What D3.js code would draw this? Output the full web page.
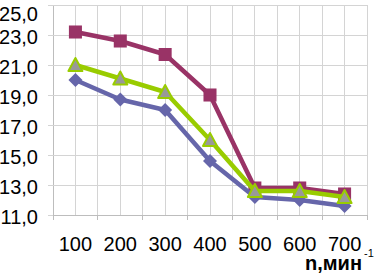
<!DOCTYPE html>
<html><head><meta charset="utf-8">
<script src="https://cdn.jsdelivr.net/npm/d3@7"></script>
<style>body{margin:0;background:#fff}svg{display:block}</style>
</head><body>
<svg id="c" width="376" height="273"></svg>
<script>
const categories = ["100","200","300","400","500","600","700"];
const seriesBlue = [20.0, 18.7, 18.0, 14.6, 12.2, 12.0, 11.6];
const seriesMagenta = [23.2, 22.6, 21.7, 19.0, 12.8, 12.8, 12.4];
const seriesGreen = [21.0, 20.1, 19.2, 16.0, 12.6, 12.6, 12.2];
const yTicks = [11, 13, 15, 17, 19, 21, 23, 25];
const xTitle = "n,мин";
const xTitleSup = "-1";

const svg = d3.select("#c");
const L = 53, R = 367, T = 5, B = 215;
const x = d3.scaleBand().domain(categories).range([L, R]);
const y = d3.scaleLinear().domain([11, 25]).range([B, T]);
const font = "'Liberation Sans', Arial, sans-serif";
const grid = "#d4d4d4";

// vertical gridlines at band boundaries and centers
const vx = [];
categories.forEach(c => { vx.push(x(c)); vx.push(x(c) + x.bandwidth() / 2); });
vx.push(R);
svg.append("g").selectAll("line").data(vx).join("line")
  .attr("x1", d => d).attr("x2", d => d).attr("y1", T).attr("y2", B)
  .attr("stroke", grid).attr("stroke-width", 1).attr("shape-rendering", "crispEdges");

// y axis with gridlines
const yAxis = d3.axisLeft(y).tickValues(yTicks).tickSize(-(R - L)).tickPadding(10)
  .tickFormat(d => d3.format(".1f")(d).replace(".", ","));
const gy = svg.append("g").attr("transform", `translate(${L},0)`).call(yAxis);
gy.select(".domain").attr("stroke", "#bdbdbd");
gy.selectAll(".tick line").attr("stroke", grid).attr("x1", -5).attr("shape-rendering", "crispEdges");
gy.selectAll(".tick text").attr("font-family", font).attr("font-size", 20).attr("fill", "#000")
  .attr("x", -15).attr("dy", d => d === 25 ? "0.75em" : "0.42em");

// x axis
const xAxis = d3.axisBottom(x).tickSize(0).tickPadding(22);
const gx = svg.append("g").attr("transform", `translate(0,${B})`).call(xAxis);
gx.select(".domain").attr("stroke", "#bdbdbd");
gx.selectAll(".tick text").attr("font-family", font).attr("font-size", 20).attr("fill", "#000");
// boundary tick marks
gx.append("g").selectAll("line").data(categories.map(c => x(c)).concat([R])).join("line")
  .attr("x1", d => d).attr("x2", d => d).attr("y1", 0).attr("y2", 5)
  .attr("stroke", "#bdbdbd").attr("shape-rendering", "crispEdges");

// axis title
svg.append("text").attr("x", 362).attr("y", 270).attr("text-anchor", "end")
  .attr("font-family", font).attr("font-weight", "bold").attr("font-size", 20).attr("fill", "#000").text(xTitle);
svg.append("text").attr("x", 364).attr("y", 257).attr("font-family", font)
  .attr("font-size", 11).attr("fill", "#000").text(xTitleSup);

const line = d3.line().x((d, i) => x(categories[i]) + x.bandwidth() / 2).y(d => y(d));
const cx = i => x(categories[i]) + x.bandwidth() / 2;

function drawSeries(vals, color, marker, mfill) {
  const g = svg.append("g");
  g.append("path").datum(vals).attr("d", line).attr("fill", "none")
    .attr("stroke", color).attr("stroke-width", 4.5).attr("stroke-linejoin", "round");
  const m = g.selectAll("path.m").data(vals).join("path").attr("class", "m")
    .attr("transform", (d, i) => `translate(${cx(i)},${y(d)})`);
  if (marker === "square") {
    m.attr("d", d3.symbol(d3.symbolSquare, 170)).attr("fill", color);
  } else if (marker === "diamond") {
    m.attr("d", "M0,-7L7,0L0,7L-7,0Z").attr("fill", color);
  } else {
    m.attr("d", "M0,-7L7,6L-7,6Z").attr("fill", mfill).attr("stroke", color).attr("stroke-width", 2).attr("stroke-linejoin", "round");
  }
}
drawSeries(seriesMagenta, "#993366", "square");
drawSeries(seriesBlue, "#6666aa", "diamond");
drawSeries(seriesGreen, "#99cc00", "triangle", "#999999");
</script>
</body></html>
